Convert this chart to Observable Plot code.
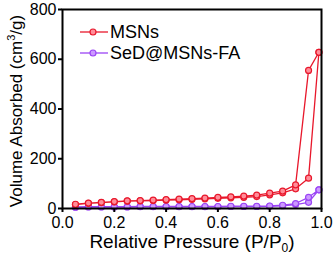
<!DOCTYPE html>
<html><head><meta charset="utf-8">
<script src="https://cdn.jsdelivr.net/npm/d3@7"></script>
<script src="https://cdn.jsdelivr.net/npm/@observablehq/plot@0.6"></script>
<style>body{margin:0;background:#fff;} svg{font-family:"Liberation Sans",Arial,sans-serif;}</style>
</head><body><div id="chart"></div>
<script>
const pressure = [0.05,0.1,0.15,0.2,0.25,0.3,0.35,0.4,0.45,0.5,0.55,0.6,0.65,0.7,0.75,0.8,0.85,0.9,0.95,0.99];
const msnsAds = [16,21,24,27,30,31,32,34,35,37,39,41,43,45,48,55,63,79,122,628];
const msnsDes = [17,22,25,28,31,32,34,36,38,40,42,45,47,50,54,62,70,95,555,628];
const sedAds  = [5,6,6,6,6,7,7,7,7,7,7,7,8,8,8,9,11,16,25,75];
const sedDes  = [6,7,7,7,7,8,8,8,8,8,8,8,9,9,9,10,13,20,45,75];
const seriesNames = ["MSNs","SeD@MSNs-FA"];
const colors = ["#e8182c","#9b45f5"];
const fills = ["#ff8d99","#cc99ff"];
const xTicks = [0,0.2,0.4,0.6,0.8,1.0];
const yTicks = [0,200,400,600,800];

function loop(name, ads, des){
  const a = pressure.map((p,i)=>({p, v:ads[i], s:name}));
  const d = pressure.map((p,i)=>({p, v:des[i], s:name})).reverse();
  return a.concat(d);
}
const m = loop(seriesNames[0], msnsAds, msnsDes);
const s = loop(seriesNames[1], sedAds, sedDes);

const plot = Plot.plot({
  width: 334, height: 256,
  marginLeft: 62, marginRight: 13, marginTop: 9, marginBottom: 48,
  style: {fontFamily: '"Liberation Sans",Arial,sans-serif', background: "#fff"},
  x: {domain:[0,1], ticks: xTicks, tickFormat: d3.format(".1f"), label: null},
  y: {domain:[0,800], ticks: yTicks, label: null},
  marks: [
    Plot.line(s, {x:"p", y:"v", stroke: colors[1], strokeWidth:1.3}),
    Plot.dot(s, {x:"p", y:"v", r:3, stroke: colors[1], fill: fills[1], strokeWidth:1.2}),
    Plot.line(m, {x:"p", y:"v", stroke: colors[0], strokeWidth:1.3}),
    Plot.dot(m, {x:"p", y:"v", r:3, stroke: colors[0], fill: fills[0], strokeWidth:1.2}),
    Plot.axisX({ticks: xTicks, tickFormat: d3.format(".1f"), tickSize:4, strokeWidth:2, fontSize:16, tickPadding:4, label:null, color:"#000"}),
    Plot.axisY({ticks: yTicks, tickSize:4, strokeWidth:2, fontSize:16, tickPadding:2, label:null, color:"#000"}),
    Plot.frame({stroke:"#000", strokeWidth:2})
  ]
});
document.getElementById("chart").appendChild(plot);
const svg = d3.select(plot);
// axis labels
const xl = svg.append("text").attr("x", 192).attr("y", 248).attr("text-anchor","middle")
  .attr("font-size",19).attr("fill","#000");
xl.append("tspan").text("Relative Pressure (P/P");
xl.append("tspan").attr("font-size",12).attr("dy",4).text("0");
xl.append("tspan").attr("dy",-4).text(")");
const yl = svg.append("text").attr("transform","translate(22,111) rotate(-90)").attr("text-anchor","middle")
  .attr("font-size",17).attr("fill","#000");
yl.append("tspan").text("Volume Absorbed (cm");
yl.append("tspan").attr("font-size",11).attr("dy",-7).text("3");
yl.append("tspan").attr("dy",7).text("/g)");
// legend
seriesNames.forEach((n,i)=>{
  const y = 32 + i*21;
  svg.append("line").attr("x1",80).attr("x2",108).attr("y1",y).attr("y2",y).attr("stroke",colors[i]).attr("stroke-width",1.3);
  svg.append("circle").attr("cx",93).attr("cy",y).attr("r",3).attr("stroke",colors[i]).attr("fill",fills[i]).attr("stroke-width",1.2);
  svg.append("text").attr("x",110).attr("y",y).attr("dy","0.35em").attr("text-anchor","start").attr("font-size",18).attr("fill","#000").text(n);
});
</script></body></html>
